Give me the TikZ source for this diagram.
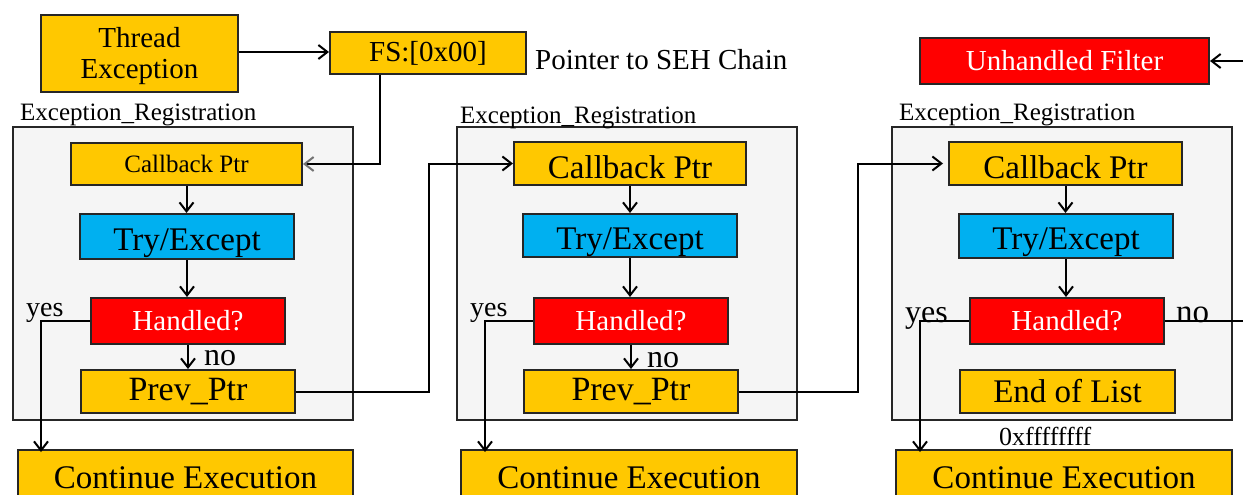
\documentclass[tikz,border=0pt]{standalone}
\usepackage{fontspec}
\setmainfont{Liberation Serif}
\usetikzlibrary{arrows.meta}
\definecolor{ygold}{HTML}{FFC800}
\definecolor{rred}{HTML}{FF0000}
\definecolor{bblue}{HTML}{00B0F0}
\definecolor{gfill}{HTML}{F5F5F5}
\newcommand\fsz[1]{\fontsize{#1}{#1}\selectfont}
\begin{document}
\begin{tikzpicture}[x=1pt,y=-1pt,
  box/.style={draw=black!85, line width=2pt, inner sep=0pt, anchor=north west},
  ybox/.style={box, fill=ygold},
  rbox/.style={box, fill=rred, text=white},
  bbox/.style={box, fill=bblue},
  group/.style={draw=black!85, fill=gfill, line width=2pt, inner sep=0pt, anchor=north west, minimum width=340pt, minimum height=293pt},
  lbl/.style={inner sep=0pt, anchor=base west},
  ln/.style={line width=2pt, draw=black},
  arr/.style={ln, -{Straight Barb[length=9pt,width=14pt,line width=2pt]}},
  garr/.style={line width=2pt, draw=black, -{Straight Barb[length=9pt,width=14pt,line width=2pt,color=black!55]}},
  cbtxt/.style={text height=30pt, text depth=0pt},
  trtxt/.style={text height=27pt, text depth=0pt}
]
\useasboundingbox (0,0) rectangle (1243,495);

% top row
\node[ybox, minimum width=197pt, minimum height=77pt, font=\fontsize{29}{31}\selectfont, text height=20pt, text depth=31pt] (te) at (40,14) {\begin{tabular}[t]{@{}c@{}}Thread\\Exception\end{tabular}};
\node[ybox, minimum width=196pt, minimum height=42pt, font=\fsz{29}] (fs) at (329,31) {FS:[0x00]};
\node[lbl, font=\fsz{29}] (ptr) at (535,70) {Pointer to SEH Chain};
\node[rbox, minimum width=289pt, minimum height=46pt, font=\fsz{29}] (uf) at (919,37) {Unhandled Filter};

% groups
\node[group] (g1) at (12,126) {};
\node[group] (g2) at (456,126) {};
\node[group] (g3) at (891,126) {};
\node[lbl, font=\fsz{25}] (l1) at (20,121) {Exception\_Registration};
\node[lbl, font=\fsz{25}] (l2) at (460,123) {Exception\_Registration};
\node[lbl, font=\fsz{25}] (l3) at (899,121) {Exception\_Registration};

% group 1
\node[ybox, minimum width=231pt, minimum height=42pt, font=\fsz{25}] (cb1) at (70,142) {Callback Ptr};
\node[bbox, minimum width=214pt, minimum height=45pt, font=\fsz{33}, trtxt] (tr1) at (79,213) {Try/Except};
\node[rbox, minimum width=194pt, minimum height=46pt, font=\fsz{29}] (h1) at (90,297) {Handled?};
\node[ybox, minimum width=214pt, minimum height=43pt, font=\fsz{34}] (pp1) at (80,369) {Prev\_Ptr};
\node[ybox, minimum width=335pt, minimum height=56pt, font=\fsz{33}] (ce1) at (17,449) {Continue Execution};
\node[lbl, font=\fsz{28}] (y1) at (26,316) {yes};
\node[lbl, font=\fsz{32}] (n1) at (204,365) {no};

% group 2
\node[ybox, minimum width=232pt, minimum height=43pt, font=\fsz{33}, cbtxt] (cb2) at (513,141) {Callback Ptr};
\node[bbox, minimum width=214pt, minimum height=43pt, font=\fsz{33}, trtxt] (tr2) at (522,213) {Try/Except};
\node[rbox, minimum width=194pt, minimum height=46pt, font=\fsz{29}] (h2) at (533,297) {Handled?};
\node[ybox, minimum width=214pt, minimum height=43pt, font=\fsz{34}] (pp2) at (523,369) {Prev\_Ptr};
\node[ybox, minimum width=336pt, minimum height=56pt, font=\fsz{33}] (ce2) at (460,449) {Continue Execution};
\node[lbl, font=\fsz{28}] (y2) at (470,316) {yes};
\node[lbl, font=\fsz{32}] (n2) at (647,367) {no};

% group 3
\node[ybox, minimum width=233pt, minimum height=43pt, font=\fsz{33}, cbtxt] (cb3) at (948,141) {Callback Ptr};
\node[bbox, minimum width=214pt, minimum height=44pt, font=\fsz{33}, trtxt] (tr3) at (958,213) {Try/Except};
\node[rbox, minimum width=194pt, minimum height=46pt, font=\fsz{29}] (h3) at (969,297) {Handled?};
\node[ybox, minimum width=215pt, minimum height=43pt, font=\fsz{33}] (eol) at (959,369) {End of List};
\node[ybox, minimum width=336pt, minimum height=56pt, font=\fsz{33}] (ce3) at (895,449) {Continue Execution};
\node[lbl, font=\fsz{32}] (y3) at (905,322) {yes};
\node[lbl, font=\fsz{33}] (n3) at (1176,322) {no};
\node[lbl, font=\fsz{26}] (ff) at (999,445) {0xffffffff};

% connectors top
\draw[arr] (te.east |- 0,52) -- (fs.west |- 0,52);
\draw[garr] ([xshift=-48pt]fs.south) |- (cb1.east);
\draw[arr] (h3.east) -- ++(90,0) |- (uf.east);

% inner flows
\foreach \c/\t/\h/\p in {cb1/tr1/h1/pp1, cb2/tr2/h2/pp2}{
  \draw[arr] (\c.south) -- (\c.south |- \t.north);
  \draw[arr] (\t.south) -- (\t.south |- \h.north);
  \draw[arr] (\h.south) -- (\h.south |- \p.north);
}
\draw[arr] (cb3.south) -- (cb3.south |- tr3.north);
\draw[arr] (tr3.south) -- (tr3.south |- h3.north);

% yes branches
\draw[arr] (h1.west) -| ([xshift=24pt,yshift=-3pt]ce1.north west);
\draw[arr] (h2.west) -| ([xshift=25pt,yshift=-3pt]ce2.north west);
\draw[arr] (h3.west) -| ([xshift=25pt,yshift=-3pt]ce3.north west);

% chain links
\draw[arr] (pp1.east) -- ++(133,0) |- (cb2.west);
\draw[arr] (pp2.east) -- ++(119,0) |- ([xshift=-5pt]cb3.west);
\end{tikzpicture}
\end{document}
